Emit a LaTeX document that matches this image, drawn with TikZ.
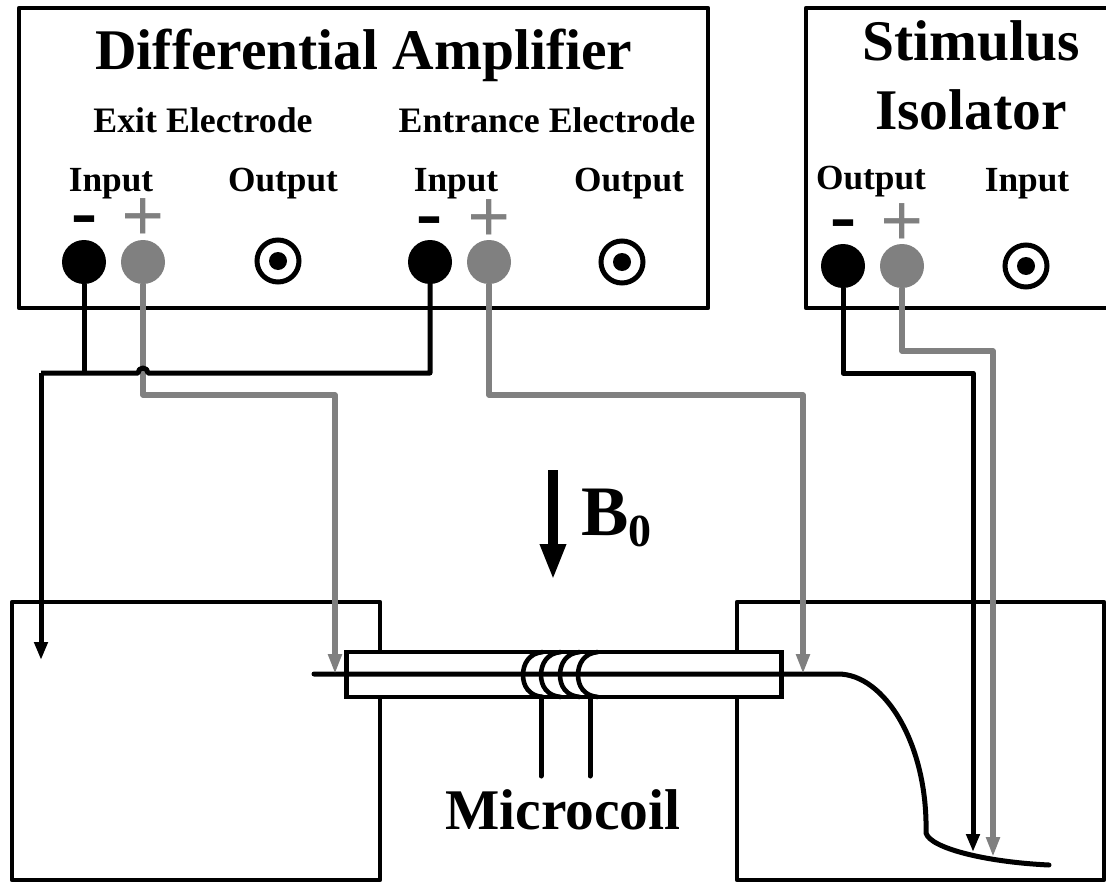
\documentclass[tikz,border=0pt]{standalone}
\usepackage{fontspec}
\setmainfont{Liberation Serif}
\usetikzlibrary{arrows.meta}
\definecolor{gray50}{RGB}{128,128,128}
\tikzset{
  panel/.style={draw=black,line width=4.8pt,line join=round,fill=white},
  tank/.style={draw=black,line width=4.4pt,line join=round},
  negterm/.style={circle,fill=black,draw=none,minimum size=44pt,inner sep=0pt},
  posterm/.style={circle,fill=gray50,draw=none,minimum size=44pt,inner sep=0pt},
  jack/.style={circle,draw=black,line width=5pt,fill=white,minimum size=42pt,inner sep=0pt},
  jackdot/.style={circle,fill=black,minimum size=18pt,inner sep=0pt},
  blk/.style={draw=black,line width=5pt,line join=round},
  gry/.style={draw=gray50,line width=5.2pt,line join=round},
  tipb/.style={-{Triangle[length=18pt,width=13pt]}},
  tipg/.style={-{Triangle[length=20pt,width=13pt]}},
  title/.style={font=\fontsize{57.5}{60}\selectfont\bfseries,inner sep=0pt,anchor=base},
  sub/.style={font=\fontsize{35.8}{38}\selectfont\bfseries,inner sep=0pt,anchor=base},
  lab/.style={font=\fontsize{35.3}{37}\selectfont\bfseries,inner sep=0pt,anchor=base},
  plussign/.style={font=\fontsize{76}{76}\selectfont\bfseries,text=gray50,inner sep=0pt,anchor=base},
  minussign/.style={font=\fontsize{78}{78}\selectfont\bfseries,text=black,inner sep=0pt,anchor=base},
}
\begin{document}
\begin{tikzpicture}[x=1pt,y=-1pt]
\useasboundingbox (0,0) rectangle (1106,883);
% panels
\path[panel] (19,8) rectangle (708,308);
\path[panel] (1110,8) -- (806,8) -- (806,308) -- (1110,308);
% tanks
\path[tank] (12,602) rectangle (380,880);
\path[tank] (737,602) rectangle (1104,880);
% panel text
\node[title] (t1) at (364,70) {Differential Amplifier};
\node[title] (t2) at (971,60) {Stimulus};
\node[title] (t3) at (971,129) {Isolator};
\node[sub] (e1) at (203,132) {Exit Electrode};
\node[sub] (e2) at (547,132) {Entrance Electrode};
\node[lab] (i1) at (111,191) {Input};
\node[lab] (o1) at (283,191) {Output};
\node[lab] (i2) at (456,191) {Input};
\node[lab] (o2) at (629,191) {Output};
\node[lab] (o3) at (871,189) {Output};
\node[lab] (i3) at (1027,191) {Input};
\node[minussign] (m1) at (84,237) {-};
\node[plussign] (p1) at (143,241) {+};
\node[minussign] (m2) at (429,238) {-};
\node[plussign] (p2) at (489,242) {+};
\node[minussign] (m3) at (843,241) {-};
\node[plussign] (p3) at (902,246) {+};
% terminals
\node[negterm] (na) at (84,262) {};
\node[posterm] (pa) at (143,262) {};
\node[negterm] (nb) at (430,262) {};
\node[posterm] (pb) at (489,262) {};
\node[negterm] (nc) at (843,266) {};
\node[posterm] (pc) at (902,266) {};
\node[jack] (ja) at (278,261) {}; \node[jackdot] (jad) at (ja) {};
\node[jack] (jb) at (622,262) {}; \node[jackdot] (jbd) at (jb) {};
\node[jack] (jc) at (1026,266) {}; \node[jackdot] (jcd) at (jc) {};
% tube
\node[draw=black,line width=4.6pt,fill=white,minimum width=435pt,minimum height=45pt,inner sep=0pt] (tube) at (564,674.5) {};
% capillary wire
\coordinate (wa) at (314,674);
\coordinate (wb) at (838,674);
\coordinate (wc) at (926,833);
\coordinate (wd) at (1049,865);
\draw[black,line width=5pt,line cap=round,line join=round] (wa) -- (wb)
  .. controls (885,674) and (928,745) .. (wc)
  .. controls (930,848) and (985,862) .. (wd);
% coil
\foreach \x in {523,541,560,578}{
  \draw[black,line width=4.6pt] (\x+20,652) .. controls (\x+6,653) and (\x,664) .. (\x,675)
     .. controls (\x,686) and (\x+6,696) .. (\x+20,697);
}
\coordinate (la) at (541,776);
\coordinate (lb) at (590,776);
\coordinate (la0) at (541,697);
\coordinate (lb0) at (590,697);
\draw[blk,line cap=round] (la0) -- (la);
\draw[blk,line cap=round] (lb0) -- (lb);
% gray wires
\coordinate (g1) at (143,395);
\coordinate (g2) at (335,395);
\coordinate (g3) at (335,674);
\draw[gry,tipg] (pa) -- (g1) -- (g2) -- (g3);
\coordinate (g4) at (489,395);
\coordinate (g5) at (803,395);
\coordinate (g6) at (803,674);
\draw[gry,tipg] (pb) -- (g4) -- (g5) -- (g6);
\coordinate (s4) at (902,351);
\coordinate (s5) at (993,351);
\coordinate (s6) at (993,857);
\draw[gry,tipg] (pc) -- (s4) -- (s5) -- (s6);
% black wires
\coordinate (bl) at (41,373);
\coordinate (bt) at (41,660);
\coordinate (br) at (430,373);
\coordinate (bj) at (84,373);
\draw[blk] (na) -- (bj);
\draw[blk] (nb) -- (br) -- (148,373) arc[start angle=0,end angle=180,radius=5pt] -- (bl);
\draw[blk,tipb] (bl) -- (bt);
\coordinate (s1) at (843,373);
\coordinate (s2) at (973,373);
\coordinate (s3) at (973,852);
\draw[blk,tipb] (nc) -- (s1) -- (s2) -- (s3);
% B0
\coordinate (ba) at (553,470);
\coordinate (bb) at (553,580);
\draw[black,line width=10pt,-{Triangle[length=36pt,width=24pt]}] (ba) -- (bb);
\node[font=\fontsize{71}{73}\selectfont\bfseries,inner sep=0pt,anchor=base west] (bz) at (581,535) {B\raisebox{-11pt}{\fontsize{46}{46}\selectfont 0}};
\node[title] (mc) at (563,829) {Microcoil};
\end{tikzpicture}
\end{document}
